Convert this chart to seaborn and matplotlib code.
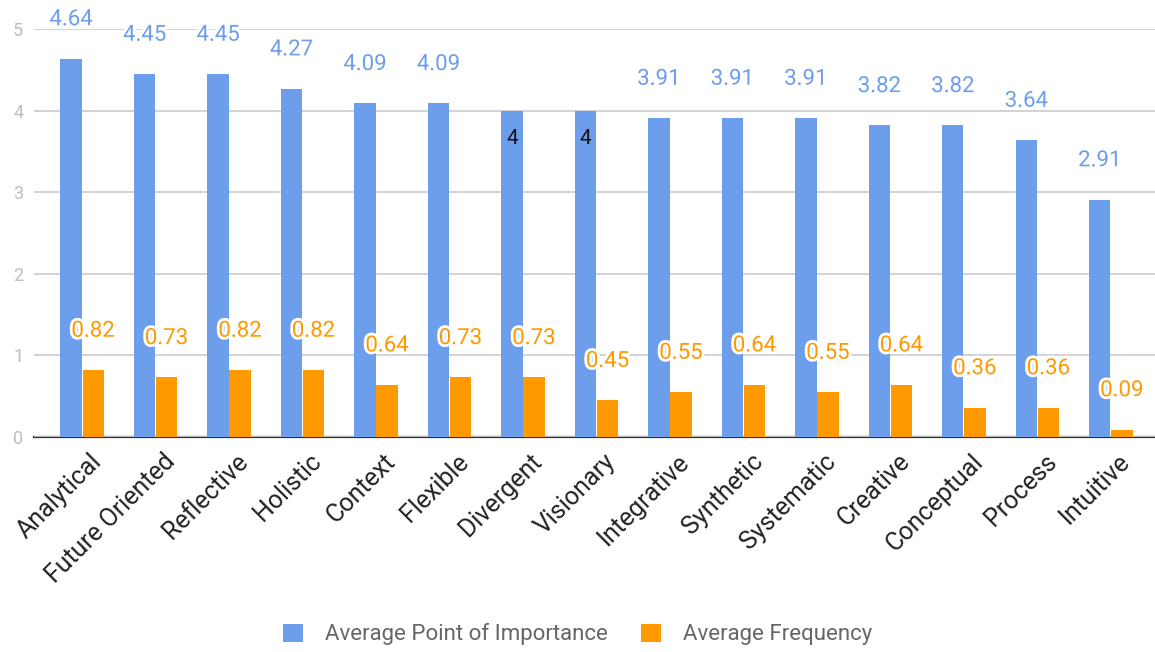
import matplotlib
matplotlib.use("Agg")
import matplotlib.pyplot as plt
import matplotlib.patheffects as pe
import matplotlib.transforms as mtransforms
from matplotlib.patches import Patch
import seaborn as sns
import pandas as pd

categories = ["Analytical", "Future Oriented", "Reflective", "Holistic", "Context",
              "Flexible", "Divergent", "Visionary", "Integrative", "Synthetic",
              "Systematic", "Creative", "Conceptual", "Process", "Intuitive"]
importance = [4.64, 4.45, 4.45, 4.27, 4.09, 4.09, 4, 4, 3.91, 3.91, 3.91, 3.82, 3.82, 3.64, 2.91]
frequency = [0.82, 0.73, 0.82, 0.82, 0.64, 0.73, 0.73, 0.45, 0.55, 0.64, 0.55, 0.64, 0.36, 0.36, 0.09]
series_names = ["Average Point of Importance", "Average Frequency"]
y_ticks = [0, 1, 2, 3, 4, 5]

BLUE = "#6d9eeb"
ORANGE = "#ff9900"

sns.set_theme(style="white")
plt.rcParams["font.family"] = ["Roboto", "DejaVu Sans"]

df = pd.DataFrame({
    "category": categories * 2,
    "value": importance + frequency,
    "series": [series_names[0]] * len(categories) + [series_names[1]] * len(categories),
})

fig = plt.figure(figsize=(11.55, 6.52), dpi=100)
ax = fig.add_axes([0.0297, 0.3298, 0.9703, 0.9551 - 0.3298])

sns.barplot(data=df, x="category", y="value", hue="series", order=categories,
            hue_order=series_names, palette=[BLUE, ORANGE], width=0.6, gap=0.04,
            saturation=1, legend=False, linewidth=0, ax=ax)

ax.set_xlim(-0.65, len(categories) - 1 + 0.6)
ax.set_ylim(0, 5)
ax.set_yticks(y_ticks)
ax.set_yticklabels([str(t) for t in y_ticks])
ax.set_xlabel("")
ax.set_ylabel("")

ax.grid(axis="y", color="#cccccc", linewidth=1.2)
ax.grid(axis="x", visible=False)
ax.set_axisbelow(True)
for side in ["left", "right", "top"]:
    ax.spines[side].set_visible(False)
ax.spines["bottom"].set_color("#333333")
ax.spines["bottom"].set_linewidth(1.6)
ax.spines["bottom"].set_zorder(0.5)

ax.tick_params(axis="y", length=0, pad=8, labelsize=13, labelcolor="#bdbdbd")
ax.tick_params(axis="x", length=0, pad=9, labelsize=18, labelcolor="#222222")
shift = mtransforms.ScaledTranslation(0.07, 0, fig.dpi_scale_trans)
for lbl in ax.get_xticklabels():
    lbl.set_rotation(45)
    lbl.set_ha("right")
    lbl.set_rotation_mode("anchor")
    lbl.set_transform(lbl.get_transform() + shift)

halo = [pe.withStroke(linewidth=4, foreground="white")]
series_vals = [importance, frequency]
series_cols = [BLUE, ORANGE]
for container, vals, col in zip(ax.containers, series_vals, series_cols):
    for patch, v in zip(container.patches, vals):
        xc = patch.get_x() + patch.get_width() / 2
        text = f"{v:g}"
        if col == BLUE and v == 4:
            ax.annotate(text, xy=(xc, v), xytext=(0, -20), textcoords="offset points",
                        ha="center", va="center", fontsize=15, color="#111111",
                        annotation_clip=False)
        else:
            ax.annotate(text, xy=(xc, v), xytext=(0, 28), textcoords="offset points",
                        ha="center", va="center", fontsize=16, color=col,
                        path_effects=halo, annotation_clip=False)

handles = [Patch(facecolor=BLUE, edgecolor="none"), Patch(facecolor=ORANGE, edgecolor="none")]
fig.legend(handles, series_names, loc="center", bbox_to_anchor=(0.5, 0.027), ncol=2,
           frameon=False, fontsize=16, labelcolor="#666666", handlelength=0.9,
           handleheight=0.9, handletextpad=1.0, columnspacing=1.5)

fig.savefig("out.png", dpi=100)
